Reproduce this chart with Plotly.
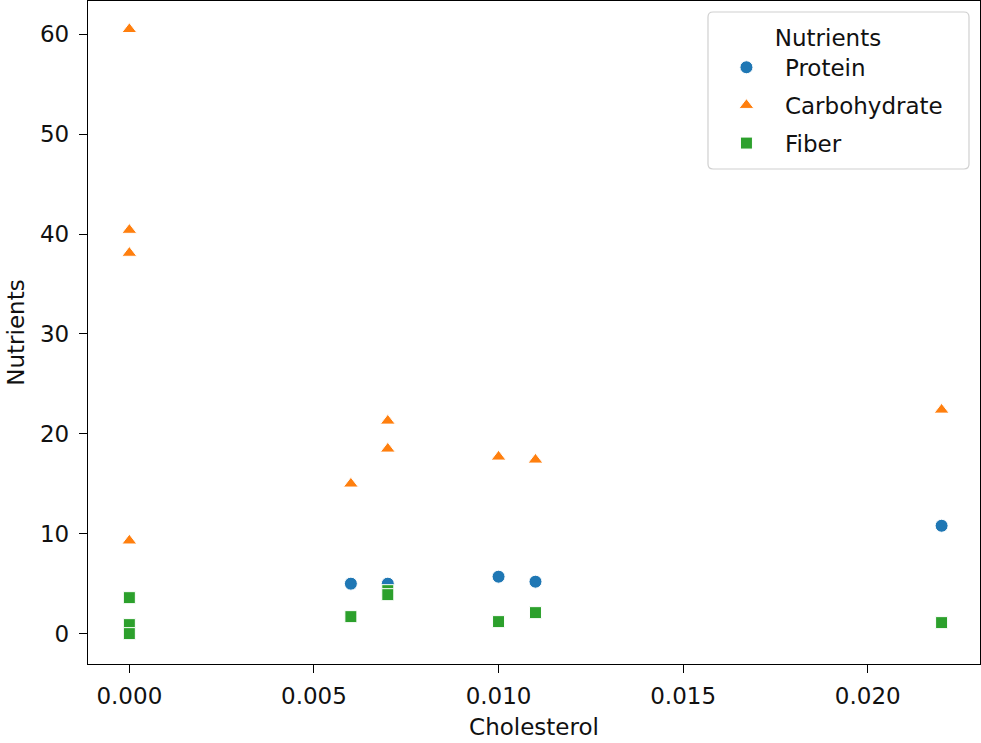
import plotly.graph_objects as go

# Data
protein_x = [0.006, 0.007, 0.010, 0.011, 0.022]
protein_y = [5.0, 5.0, 5.7, 5.2, 10.8]

carb_x = [0.0, 0.0, 0.0, 0.0, 0.006, 0.007, 0.007, 0.010, 0.011, 0.022]
carb_y = [60.5, 40.4, 38.1, 9.3, 15.0, 21.3, 18.5, 17.7, 17.4, 22.4]

fiber_x = [0.0, 0.0, 0.0, 0.006, 0.007, 0.007, 0.010, 0.011, 0.022]
fiber_y = [3.6, 0.9, 0.0, 1.7, 4.3, 3.9, 1.2, 2.1, 1.1]

x_ticks = [0.0, 0.005, 0.010, 0.015, 0.020]
x_tick_text = ["0.000", "0.005", "0.010", "0.015", "0.020"]
y_ticks = [0, 10, 20, 30, 40, 50, 60]

FONT = "DejaVu Sans"
FS = 23
TXT = "#111111"

fig = go.Figure()
series = [
    ("Protein", protein_x, protein_y, "circle", "#1f77b4", 13),
    ("Carbohydrate", carb_x, carb_y, "triangle-up", "#ff7f0e", 13),
    ("Fiber", fiber_x, fiber_y, "square", "#2ca02c", 12),
]
for name, xs, ys, sym, col, sz in series:
    fig.add_trace(go.Scatter(
        x=xs, y=ys, mode="markers", name=name, legendgroup=name,
        marker=dict(symbol=sym, color=col, size=sz,
                    line=dict(color="white", width=1)),
    ))

axis_common = dict(
    showgrid=False, zeroline=False, showline=True, linecolor="black",
    linewidth=1.3, mirror=True, ticks="outside", ticklen=8, tickwidth=1.3,
    tickcolor="black", tickfont=dict(family=FONT, size=FS, color=TXT),
)

# legend frame (drawn as a rounded box behind the legend entries)
bx0, bx1 = (708 - 88) / 892, (969 - 88) / 892
by1, by0 = (664 - 12) / 663, (664 - 169) / 663
rx, ry = 5 / 892, 5 / 663
frame_path = (
    f"M {bx0 + rx},{by1} L {bx1 - rx},{by1} Q {bx1},{by1} {bx1},{by1 - ry} "
    f"L {bx1},{by0 + ry} Q {bx1},{by0} {bx1 - rx},{by0} "
    f"L {bx0 + rx},{by0} Q {bx0},{by0} {bx0},{by0 + ry} "
    f"L {bx0},{by1 - ry} Q {bx0},{by1} {bx0 + rx},{by1} Z"
)

fig.update_layout(
    width=981, height=743,
    margin=dict(l=88, r=1, t=1, b=79, autoexpand=False),
    paper_bgcolor="white", plot_bgcolor="white",
    font=dict(family=FONT, size=FS, color=TXT),
    xaxis=dict(range=[-0.00112, 0.02304], tickvals=x_ticks, ticktext=x_tick_text,
               ticklabelstandoff=3,
               title=dict(text="Cholesterol", standoff=11,
                          font=dict(family=FONT, size=FS, color=TXT)),
               **axis_common),
    yaxis=dict(range=[-3.04, 63.33], tickvals=y_ticks,
               ticklabelstandoff=5,
               title=dict(text="Nutrients", standoff=8,
                          font=dict(family=FONT, size=FS, color=TXT)),
               **axis_common),
    shapes=[dict(type="path", xref="paper", yref="paper", path=frame_path,
                 fillcolor="rgba(255,255,255,0.85)",
                 line=dict(color="#d0d0d0", width=1.2), layer="above")],
    legend=dict(
        x=0.695, y=0.9775, xanchor="left", yanchor="top",
        bgcolor="rgba(0,0,0,0)", borderwidth=0,
        font=dict(family=FONT, size=FS, color=TXT),
        title=dict(text="Nutrients", side="top center",
                   font=dict(family=FONT, size=FS, color=TXT)),
        itemwidth=67, tracegroupgap=5,
    ),
    showlegend=True,
)

fig.write_html("out.html")
